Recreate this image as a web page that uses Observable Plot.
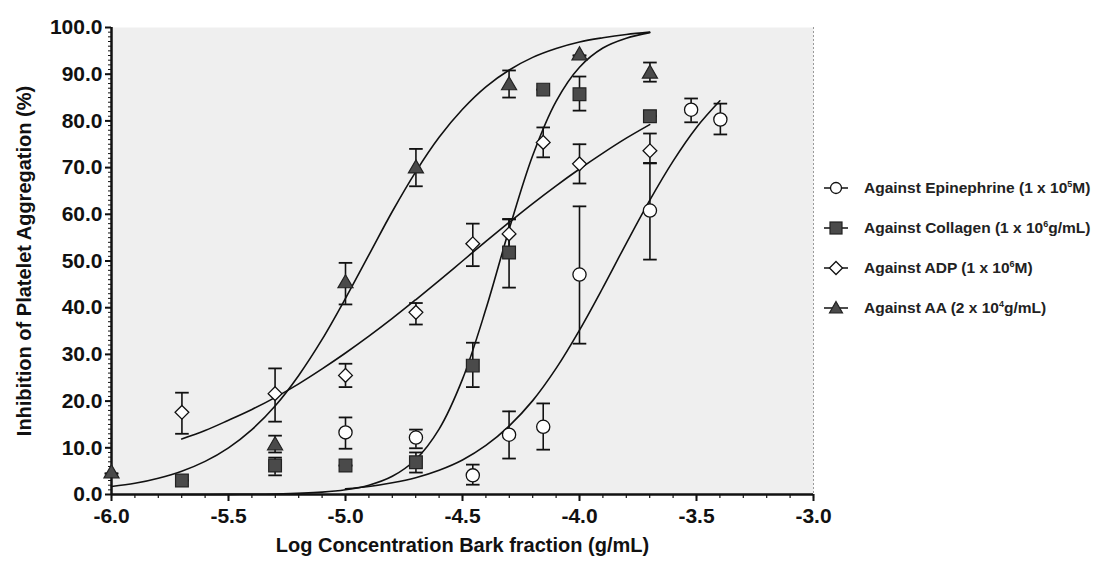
<!DOCTYPE html>
<html>
<head>
<meta charset="utf-8">
<script src="https://cdn.jsdelivr.net/npm/d3@7"></script>
<script src="https://cdn.jsdelivr.net/npm/@observablehq/plot@0.6"></script>
<style>
  html, body { margin: 0; padding: 0; background: #ffffff; }
  #wrap { position: relative; width: 1098px; height: 561px; font-family: 'Liberation Sans', Arial, sans-serif; }
  #legend { position: absolute; left: 820px; top: 168px; font-weight: bold; font-size: 15.5px; color: #222; }
  .row { display: flex; align-items: center; height: 40px; white-space: nowrap; }
  .row svg { width: 32px; height: 18px; margin-right: 12px; overflow: visible; }
  sup { font-size: 9px; vertical-align: 6px; line-height: 0; }
</style>
</head>
<body>
<div id="wrap">
  <div id="chart"></div>
  <div id="legend"></div>
</div>
<script>
// ---- axis ticks ----
const xTicks = [-6.0, -5.5, -5.0, -4.5, -4.0, -3.5, -3.0];
const yTicks = [0, 10, 20, 30, 40, 50, 60, 70, 80, 90, 100];

// ---- Against Epinephrine (circles) ----
const epiX  = [-5.0, -4.699, -4.456, -4.301, -4.155, -4.0, -3.699, -3.523, -3.398];
const epiY  = [13.3, 12.2, 4.1, 12.8, 14.5, 47.1, 60.8, 82.4, 80.3];
const epiLo = [9.8, 9.9, 2.1, 7.7, 9.6, 32.3, 50.3, 79.7, 77.1];
const epiHi = [16.5, 13.9, 6.4, 17.8, 19.5, 61.7, 70.9, 84.8, 83.7];

// ---- Against Collagen (filled squares) ----
const colX  = [-5.699, -5.301, -5.0, -4.699, -4.456, -4.301, -4.155, -4.0, -3.699];
const colY  = [3.0, 6.2, 6.2, 6.9, 27.6, 51.8, 86.7, 85.7, 81.0];
const colLo = [3.0, 4.1, 6.2, 4.7, 23.0, 44.3, 86.7, 82.2, 81.0];
const colHi = [3.0, 7.9, 6.2, 9.0, 32.5, 58.9, 86.7, 89.5, 81.0];

// ---- Against ADP (open diamonds) ----
const adpX  = [-5.699, -5.301, -5.0, -4.699, -4.456, -4.301, -4.155, -4.0, -3.699];
const adpY  = [17.6, 21.6, 25.5, 39.0, 53.7, 55.8, 75.4, 70.8, 73.6];
const adpLo = [13.0, 15.6, 23.0, 36.4, 48.9, 53.0, 72.2, 66.6, 71.0];
const adpHi = [21.8, 27.0, 28.0, 41.0, 58.0, 59.0, 78.6, 75.0, 77.3];

// ---- Against AA (filled triangles) ----
const aaX  = [-6.0, -5.301, -5.0, -4.699, -4.301, -4.0, -3.699];
const aaY  = [4.5, 10.5, 45.2, 69.8, 87.6, 94.0, 90.1];
const aaLo = [4.5, 9.0, 40.7, 66.0, 85.0, 94.0, 88.4];
const aaHi = [4.5, 12.6, 49.6, 74.0, 90.8, 94.0, 92.5];

// ---- fitted curves ----
const epiCurveX = [-5.0, -4.9, -4.8, -4.7, -4.6, -4.5, -4.4, -4.3, -4.2, -4.1, -4.0, -3.9, -3.8, -3.7, -3.6, -3.5, -3.4];
const epiCurveY = [1.2, 1.7, 2.5, 3.6, 5.2, 7.4, 10.5, 14.7, 20.1, 27.0, 35.2, 44.3, 53.8, 63.0, 71.4, 78.6, 84.3];

const colCurveX = [-5.7, -5.5, -5.3, -5.1, -5.0, -4.9, -4.8, -4.7, -4.6, -4.5, -4.4, -4.3, -4.2, -4.1, -4.0, -3.9, -3.8, -3.7];
const colCurveY = [0.0, 0.03, 0.12, 0.5, 1.0, 2.0, 3.9, 7.5, 14.0, 24.7, 39.7, 56.9, 72.6, 84.2, 91.5, 95.6, 97.7, 98.9];

const adpCurveX = [-5.7, -5.6, -5.5, -5.4, -5.3, -5.2, -5.1, -5.0, -4.9, -4.8, -4.7, -4.6, -4.5, -4.4, -4.3, -4.2, -4.1, -4.0, -3.9, -3.8, -3.7];
const adpCurveY = [11.9, 13.7, 15.9, 18.2, 20.8, 23.7, 26.9, 30.3, 33.9, 37.7, 41.7, 45.8, 50.0, 54.2, 58.3, 62.3, 66.1, 69.7, 73.1, 76.3, 79.2];

const aaCurveX = [-6.0, -5.9, -5.8, -5.7, -5.6, -5.5, -5.4, -5.3, -5.2, -5.1, -5.0, -4.9, -4.8, -4.7, -4.6, -4.5, -4.4, -4.3, -4.2, -4.1, -4.0, -3.9, -3.8, -3.7];
const aaCurveY = [1.7, 2.4, 3.5, 5.0, 7.1, 10.0, 13.9, 19.0, 25.5, 33.2, 42.0, 51.3, 60.6, 69.1, 76.5, 82.5, 87.3, 90.9, 93.6, 95.5, 96.9, 97.8, 98.5, 99.0];

const seriesNames = [
  "Against Epinephrine (1 x 10<sup>5</sup>M)",
  "Against Collagen (1 x 10<sup>6</sup>g/mL)",
  "Against ADP (1 x 10<sup>6</sup>M)",
  "Against AA (2 x 10<sup>4</sup>g/mL)"
];

// ---- tables ----
const tbl = (xs, ys, lo, hi) => xs.map((x, i) => ({x, y: ys[i], lo: lo[i], hi: hi[i]}));
const curve = (xs, ys) => xs.map((x, i) => ({x, y: ys[i]}));
const epi = tbl(epiX, epiY, epiLo, epiHi);
const col = tbl(colX, colY, colLo, colHi);
const adp = tbl(adpX, adpY, adpLo, adpHi);
const aa  = tbl(aaX, aaY, aaLo, aaHi);
const all = [...epi, ...col, ...adp, ...aa];

const cap = { draw(ctx, size) { const r = Math.sqrt(size / Math.PI); ctx.moveTo(-r, 0); ctx.lineTo(r, 0); } };

const dark = "#4a4a4a";
const lineOpts = {x: "x", y: "y", stroke: "#111", strokeWidth: 1.6, curve: "catmull-rom"};

const chart = Plot.plot({
  width: 1098,
  height: 561,
  marginLeft: 111,
  marginRight: 285,
  marginTop: 27,
  marginBottom: 67,
  x: {domain: [-6, -3]},
  y: {domain: [0, 100]},
  style: {fontFamily: "'Liberation Sans', Arial, sans-serif", fontWeight: "bold", color: "#111", background: "transparent"},
  marks: [
    Plot.frame({fill: "#efefef", stroke: "none"}),
    Plot.ruleX([-3], {stroke: "#9a9a9a", strokeDasharray: "2,2"}),
    // minor ticks
    Plot.axisY({ticks: d3.range(0, 101, 1), tickSize: 3, tickFormat: () => "", label: null, strokeWidth: 1}),
    Plot.axisX({ticks: d3.range(-60, -29, 1).map(d => d / 10), tickSize: 4, tickFormat: () => "", label: null, strokeWidth: 1.2}),
    // major ticks
    Plot.axisY({ticks: yTicks, tickSize: 6, tickPadding: 3, tickFormat: d => d.toFixed(1), fontSize: 21, label: null, strokeWidth: 2}),
    Plot.axisX({ticks: xTicks, tickSize: 7, tickPadding: 7, tickFormat: d => d.toFixed(1), fontSize: 21, label: null, strokeWidth: 2}),
    Plot.ruleX([-6], {stroke: "#111", strokeWidth: 2.5}),
    Plot.ruleY([0], {stroke: "#111", strokeWidth: 2.5}),
    // axis titles
    Plot.text(["Log Concentration Bark fraction (g/mL)"], {frameAnchor: "bottom", dy: 57, fontSize: 20, fontWeight: "bold", fill: "#111"}),
    Plot.text(["Inhibition of Platelet Aggregation (%)"], {frameAnchor: "left", textAnchor: "middle", dx: -87, rotate: -90, fontSize: 20, fontWeight: "bold", fill: "#111"}),
    // fitted curves
    Plot.line(curve(aaCurveX, aaCurveY), lineOpts),
    Plot.line(curve(colCurveX, colCurveY), lineOpts),
    Plot.line(curve(adpCurveX, adpCurveY), lineOpts),
    Plot.line(curve(epiCurveX, epiCurveY), lineOpts),
    // error bars
    Plot.ruleX(all, {x: "x", y1: "lo", y2: "hi", stroke: "#111", strokeWidth: 1.6}),
    Plot.dot(all, {x: "x", y: "lo", symbol: cap, r: 6.8, stroke: "#111", strokeWidth: 1.8}),
    Plot.dot(all, {x: "x", y: "hi", symbol: cap, r: 6.8, stroke: "#111", strokeWidth: 1.8}),
    // markers
    Plot.dot(epi, {x: "x", y: "y", symbol: "circle", r: 6.6, fill: "white", stroke: "#111", strokeWidth: 1.3}),
    Plot.dot(col, {x: "x", y: "y", symbol: "square", r: 7.2, fill: dark, stroke: "#222", strokeWidth: 1.2}),
    Plot.dot(adp, {x: "x", y: "y", symbol: "diamond2", r: 6.2, fill: "white", stroke: "#111", strokeWidth: 1.3}),
    Plot.dot(aa, {x: "x", y: "y", symbol: "triangle", r: 5.6, fill: dark, stroke: "#222", strokeWidth: 1.2})
  ]
});
document.getElementById("chart").appendChild(chart);

// ---- legend ----
const symbols = [
  '<circle cx="16" cy="9" r="5.5" fill="white" stroke="#111" stroke-width="1.3"/>',
  '<rect x="10" y="3" width="12" height="12" fill="' + dark + '" stroke="#222" stroke-width="1.2"/>',
  '<path d="M16,2.5 L22.5,9 L16,15.5 L9.5,9 Z" fill="white" stroke="#111" stroke-width="1.3"/>',
  '<path d="M16,2.5 L22.5,14 L9.5,14 Z" fill="' + dark + '" stroke="#222" stroke-width="1.2"/>'
];
const legend = document.getElementById("legend");
seriesNames.forEach((name, i) => {
  const row = document.createElement("div");
  row.className = "row";
  row.innerHTML = '<svg viewBox="0 0 32 18"><line x1="4" x2="28" y1="9" y2="9" stroke="#111" stroke-width="1.5"/>' + symbols[i] + '</svg><span>' + name + '</span>';
  legend.appendChild(row);
});
</script>
</body>
</html>
